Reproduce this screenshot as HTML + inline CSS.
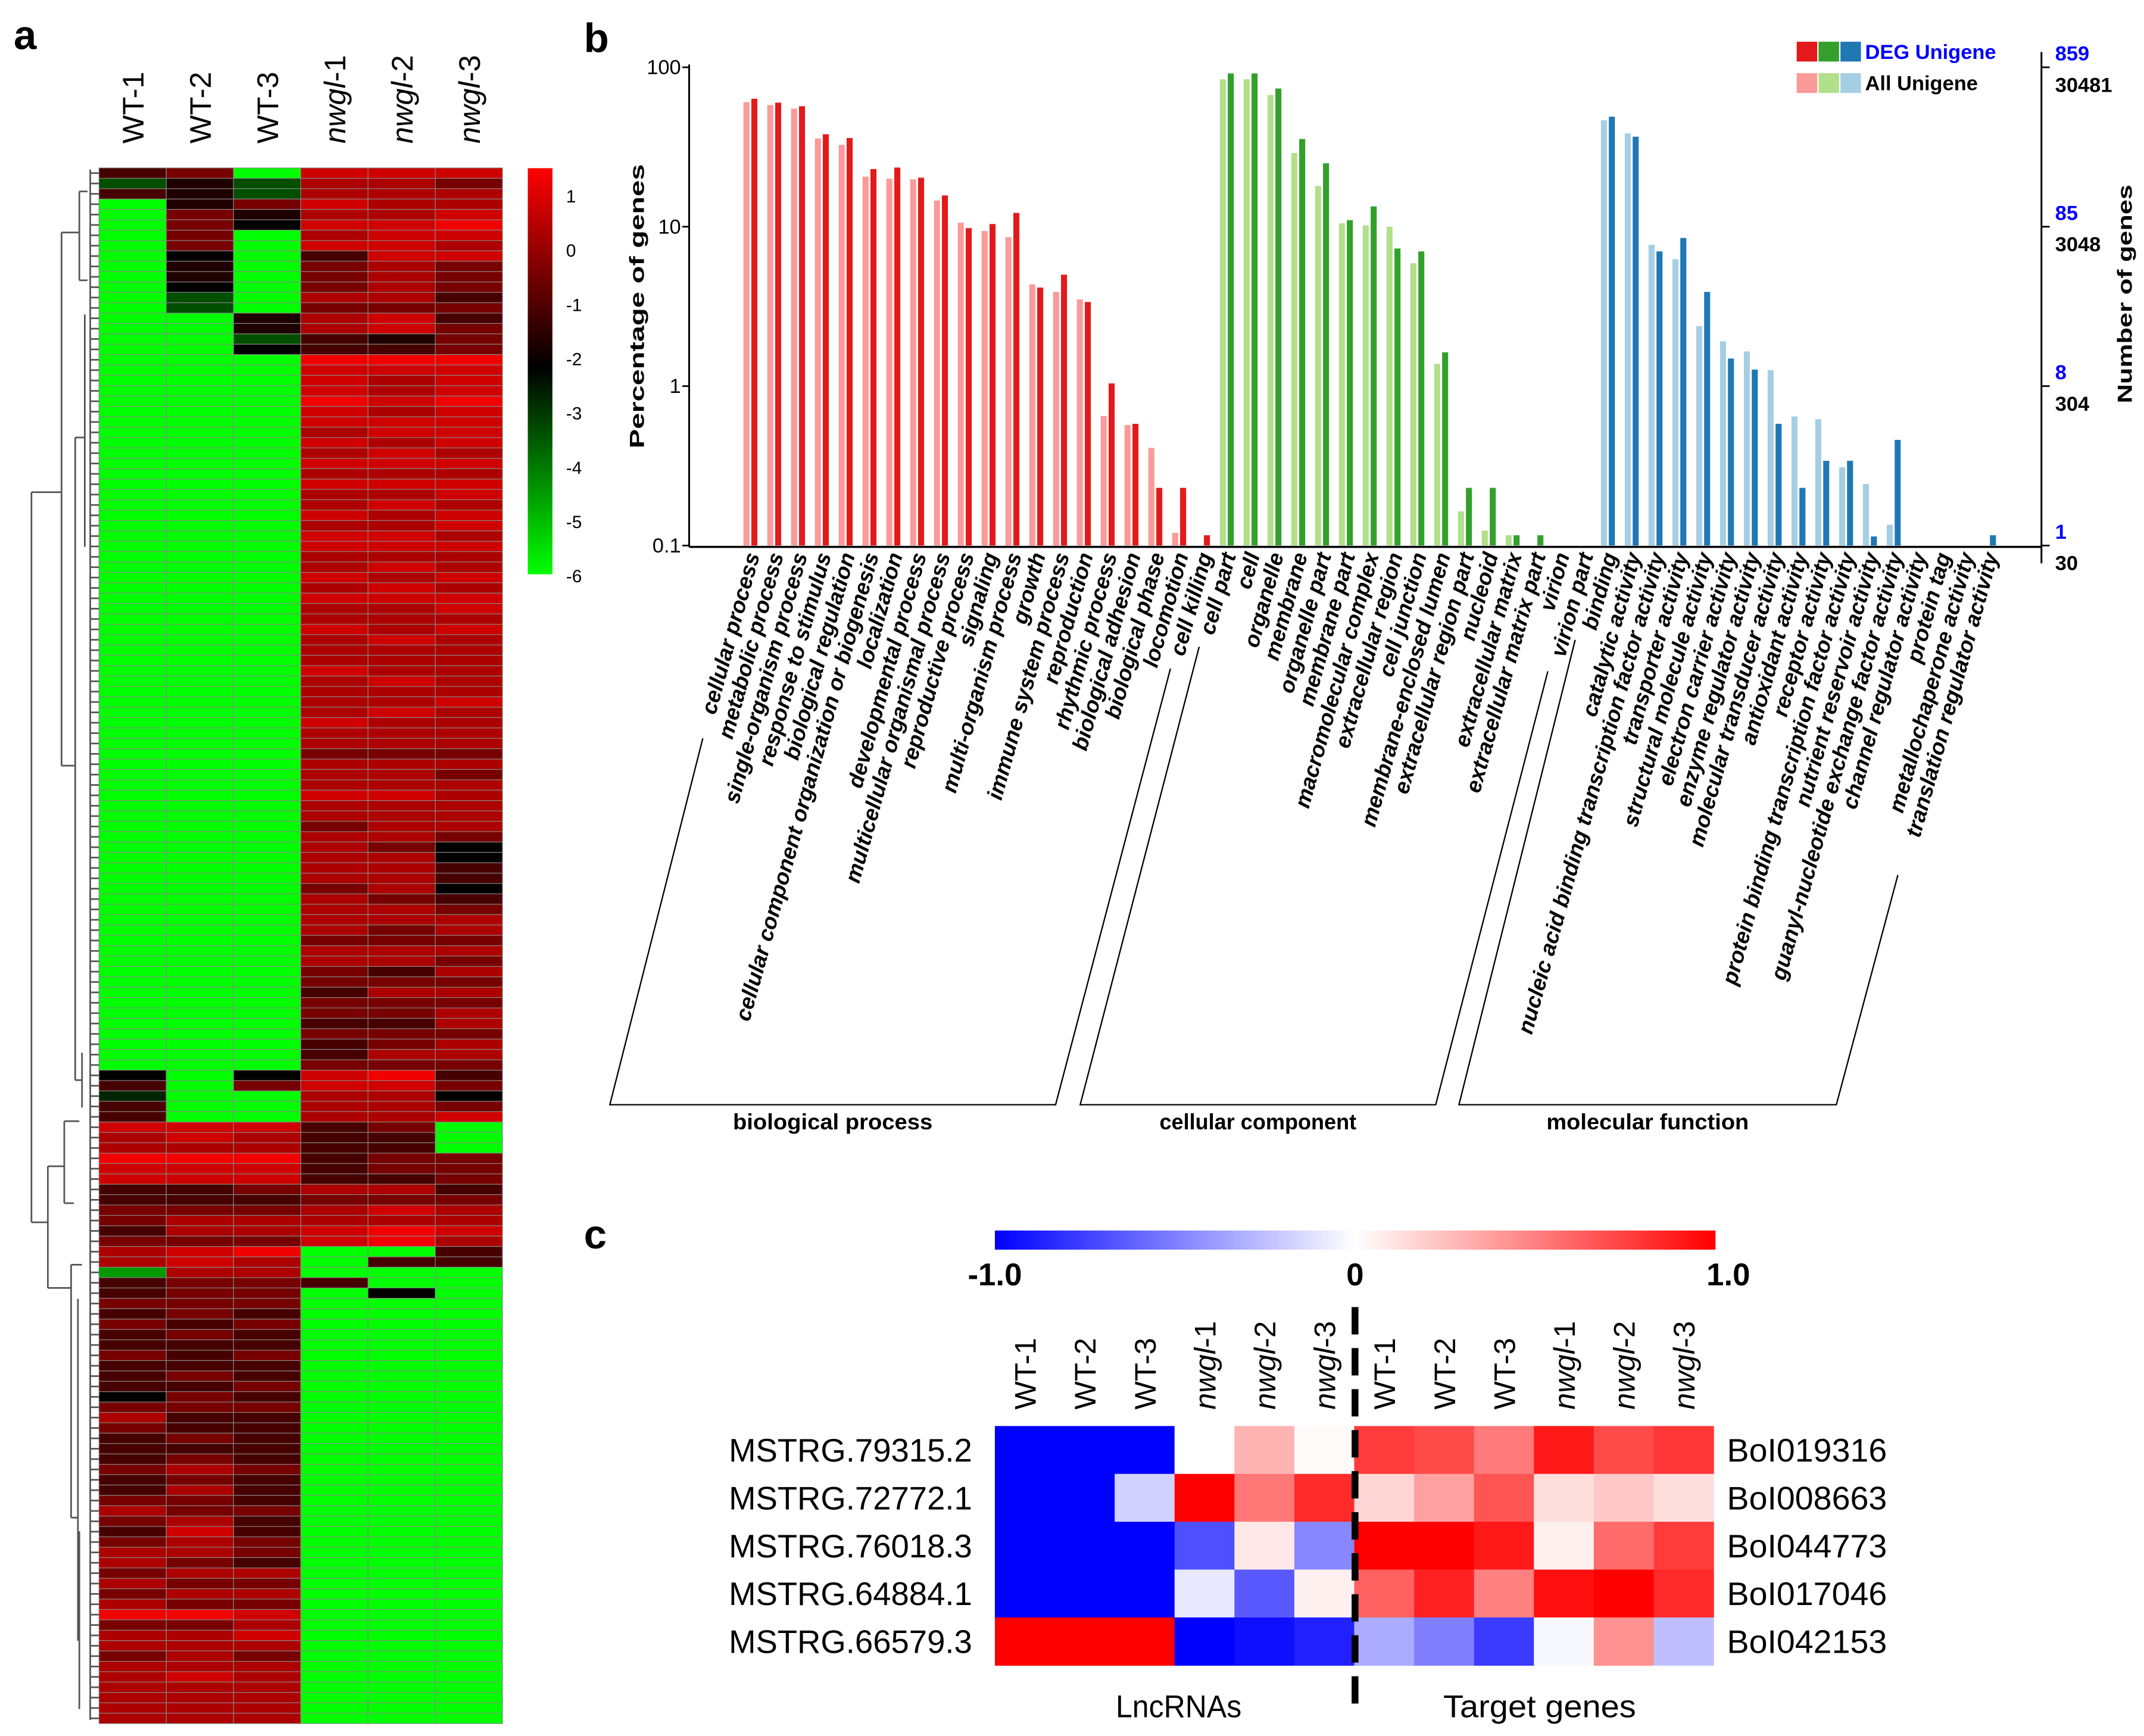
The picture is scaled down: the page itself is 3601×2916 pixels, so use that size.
<!DOCTYPE html>
<html><head><meta charset="utf-8"><style>
html,body{margin:0;padding:0;background:#fff}
svg{display:block;font-family:"Liberation Sans",Arial,sans-serif}
</style></head><body>
<svg id="fig" xmlns="http://www.w3.org/2000/svg" width="3601" height="2916" viewBox="0 0 1568 1269.7">
<rect width="1568" height="1269.7" fill="#fff"/>
<text x="10" y="36" font-size="30" font-weight="bold">a</text>
<text x="427" y="38" font-size="30" font-weight="bold">b</text>
<text x="427" y="913" font-size="30" font-weight="bold">c</text>
<g id="pa"></g>
<g id="pb"></g>
<g id="pc"></g>
</svg>
<script>
// ---------- Panel a data ----------
const aSamples = ["WT-1","WT-2","WT-3","nwgl-1","nwgl-2","nwgl-3"];
const aCodeValues = {G:-6,g:-4.5,h:-3.4,q:-2.8,k:-2.2,K:-1.8,m:-1.2,d:-0.5,r:0.3,R:0.8,B:1.3};
const aColWT1 = "mhm"+"G".repeat(84)+"kmqmm"+"RrrBRRmmddmd"+"rr"+"g"+"mm"+"dmdmmdmmmk"+"drdmmmdmmd"+"rdmdrrdrdr"+"Bdrrdrrrrr"+"r";
const aColWT2 = "dKK"+"KddddkKKkhh"+"G".repeat(73)+"GGGGG"+"RRrBRRmmdrrd"+"RR"+"r"+"dd"+"ddmdmmmdmd"+"dmmdmdrdrd"+"drRrrdrdrd"+"BdrrrrRrrr"+"r";
const aColWT3 = "Ghh"+"dKk"+"G".repeat(8)+"KKhk"+"G".repeat(69)+"kdGGG"+"RrrBRRdmdrrd"+"Br"+"r"+"dd"+"dmdmmdmmdm"+"dmmmmmdmmm"+"dmmddmrdrd"+"RrRrdrrrrr"+"r";
const aColN1 = "RrrRrRrRmdddrdrrmm"+"BRRRBRRrRr"+"RrRrrRrRRr"+"rRrRrrRrrr"+"RrrrrRrrdr"+"rrRrrdrrrr"+"rdrrrrdrrd"+"dmddmdmmd"+"RRrrr"+"mmmmmmrdrrRR"+"GG"+"G"+"m"+"G"+"G".repeat(41);
const aColN2 = "RrrrrRRRRrrrrdRRKm"+"BRrrRrRRrR"+"RrRrRrrRRr"+"RrRRrrrRrr"+"rRrrRrrrdr"+"rrRrrrrdrr"+"rrdrrddrrm"+"drddmddrd"+"BRrrr"+"dmmddmrdRrBB"+"Gm"+"G"+"G"+"k"+"G".repeat(41);
const aColN3 = "RdrrRBRrRdddmdmddd"+"BRRRBRRRRr"+"RrRRrRRrRr"+"rRrRRrRrrr"+"rrrRrrrrdr"+"drrrrrdkkm"+"mkmdrrdrdr"+"drdrrdrrd"+"mdkdR"+"GGGdddmdrrRr"+"mm"+"GGG"+"G".repeat(41);
const aColumns = [aColWT1,aColWT2,aColWT3,aColN1,aColN2,aColN3];
const aScaleTicks = ["1","0","-1","-2","-3","-4","-5","-6"];

// ---------- Panel b data ----------
const goTerms = ["cellular process","metabolic process","single-organism process","response to stimulus","biological regulation","cellular component organization or biogenesis","localization","developmental process","multicellular organismal process","reproductive process","signaling","multi-organism process","growth","immune system process","reproduction","rhythmic process","biological adhesion","biological phase","locomotion","cell killing",
"cell part","cell","organelle","membrane","organelle part","membrane part","macromolecular complex","extracellular region","cell junction","membrane-enclosed lumen","extracellular region part","nucleoid","extracellular matrix","extracellular matrix part","virion","virion part",
"binding","catalytic activity","nucleic acid binding transcription factor activity","transporter activity","structural molecule activity","electron carrier activity","enzyme regulator activity","molecular transducer activity","antioxidant activity","receptor activity","protein binding transcription factor activity","nutrient reservoir activity","guanyl-nucleotide exchange factor activity","channel regulator activity","protein tag","metallochaperone activity","translation regulator activity"];
const goGroup = [0,0,0,0,0,0,0,0,0,0,0,0,0,0,0,0,0,0,0,0, 1,1,1,1,1,1,1,1,1,1,1,1,1,1,1,1, 2,2,2,2,2,2,2,2,2,2,2,2,2,2,2,2,2];
const allUnigene = [60.4,58,55,35.8,32.6,20.6,20,19.8,14.6,10.6,9.4,8.6,4.35,3.9,3.5,0.65,0.57,0.41,0.12,0,
84,84,67,29,18,10.5,10.2,10,5.9,1.38,0.164,0.124,0.116,0,0,0,
46.5,38.5,7.7,6.25,2.38,1.91,1.65,1.26,0.645,0.62,0.31,0.243,0.135,0,0,0,0];
const degUnigene = [63.5,60,57,38,36,23,23.5,20.3,15.7,9.8,10.4,12.2,4.15,5.0,3.37,1.04,0.58,0.23,0.23,0.116,
91.5,91.5,73.6,35.5,25,11,13.4,7.3,7.0,1.63,0.23,0.23,0.116,0.116,0,0,
49,36.7,7.0,8.5,3.9,1.49,1.27,0.58,0.23,0.34,0.34,0.114,0.46,0,0,0,0.116];
const yTicks = [100,10,1,0.1];
const yTickLabels = ["100","10","1","0.1"];
const rightDegLabels = ["859","85","8","1"];
const rightAllLabels = ["30481","3048","304","30"];
const groupNames = ["biological process","cellular component","molecular function"];

// ---------- Panel c data ----------
const cCols = ["WT-1","WT-2","WT-3","nwgl-1","nwgl-2","nwgl-3","WT-1","WT-2","WT-3","nwgl-1","nwgl-2","nwgl-3"];
const lncNames = ["MSTRG.79315.2","MSTRG.72772.1","MSTRG.76018.3","MSTRG.64884.1","MSTRG.66579.3"];
const targetNames = ["BoI019316","BoI008663","BoI044773","BoI017046","BoI042153"];
const corrRow1 = [-1,-1,-1,0.0,0.3,0.02, 0.77,0.71,0.52,0.9,0.71,0.79];
const corrRow2 = [-1,-1,-0.18,1,0.53,0.83, 0.16,0.37,0.67,0.13,0.21,0.13];
const corrRow3 = [-1,-1,-1,-0.69,0.09,-0.47, 1,1,0.9,0.06,0.58,0.77];
const corrRow4 = [-1,-1,-1,-0.09,-0.65,0.06, 0.62,0.87,0.5,0.94,1,0.83];
const corrRow5 = [1,1,1,-1,-0.94,-0.87, -0.33,-0.5,-0.77,-0.03,0.43,-0.25];
const corrRows = [corrRow1,corrRow2,corrRow3,corrRow4,corrRow5];
const cScaleLabels = ["-1.0","0","1.0"];

const NS="http://www.w3.org/2000/svg";
function mk(parent,tag,attrs,text){const e=document.createElementNS(NS,tag);for(const k in attrs)e.setAttribute(k,attrs[k]);if(text!==undefined)e.textContent=text;parent.appendChild(e);return e;}

// ===== Panel a =====
(function(){
 const g=document.getElementById('pa');
 const x0=72.4,x1=367.5,y0=122.8,y1=1260.6,nR=150;
 const cw=(x1-x0)/6,rh=(y1-y0)/nR;
 function col(v){const mid=-2.25;
  if(v>=mid){const t=Math.min(1,(v-mid)/3.75);return `rgb(${Math.round(255*t)},0,0)`;}
  const t=Math.min(1,(mid-v)/3.75);return `rgb(0,${Math.round(255*t)},0)`;}
 aColumns.forEach((s,ci)=>{
  for(let r=0;r<nR;r++){
   const ch=s[r]||s[s.length-1];const v=aCodeValues[ch];
   const c=mk(g,'rect',{x:x0+ci*cw,y:y0+r*rh,width:cw,height:rh+0.05,fill:col(v),stroke:'#8a8a8a','stroke-width':0.5});
   
   
  }
  const lx=x0+(ci+0.5)*cw+8;
  const t=mk(g,'text',{x:0,y:0,transform:`translate(${lx},105) rotate(-90)`,'font-size':22});
  
  
  const nm=aSamples[ci];
  if(nm.startsWith('nwgl')){mk(t,'tspan',{'font-style':'italic'},'nwgl');mk(t,'tspan',{},nm.slice(4));}
  else t.textContent=nm;
 });
 const defs=mk(g,'defs',{});
 const lg=mk(defs,'linearGradient',{id:'ga',x1:0,y1:0,x2:0,y2:1});
 mk(lg,'stop',{offset:'0','stop-color':'#ff0000'});
 mk(lg,'stop',{offset:'0.49','stop-color':'#000000'});
 mk(lg,'stop',{offset:'1','stop-color':'#00ff00'});
 const cb=mk(g,'rect',{x:386,y:123,width:18,height:297,fill:'url(#ga)'});
 
 
 aScaleTicks.forEach((l,i)=>{
  const t=mk(g,'text',{x:414,y:148+i*39.7,'font-size':13},l);
  
  
 });
 const dg=mk(g,'g',{stroke:'#555','stroke-width':1.2,fill:'none'});
 
 
 for(let r=0;r<nR;r++){const y=y0+(r+0.5)*rh;mk(dg,'line',{x1:66,y1:y,x2:x0,y2:y});}
 const segs=[[66,124,66,1258],
 [23,360,23,894],[23,360,45,360],[23,894,35,894],
 [45,170,45,560],[45,170,58,170],[45,560,55,560],
 [58,140,58,205],[58,140,64,140],[58,205,64,205],
 [55,320,55,790],[55,320,62,320],[55,790,60,790],
 [62,230,62,400],[60,770,60,810],
 [35,853,35,942],[35,853,47,853],[35,942,52,942],
 [47,820,47,880],[47,820,58,820],[47,880,54,880],
 [52,925,52,1110],[52,925,60,925],[52,1110,57,1110],
 [57,950,57,1200],[58,1120,58,1250]];
 segs.forEach(s=>mk(dg,'line',{x1:s[0],y1:s[1],x2:s[2],y2:s[3]}));
})();

// ===== Panel b =====
(function(){
 const g=document.getElementById('pb');
 const axL=504,axR=1493,yTop=49.2,yBot=399;
 const dec=(yBot-yTop)/3;
 const y=v=>yBot-(Math.log10(v)+1)*dec;
 const x0=543.7,step=17.42,bw=4.4;
 const light=['#fb9a99','#b2df8a','#a6cee3'],dark=['#e31a1c','#33a02c','#1f78b4'];
 goTerms.forEach((term,i)=>{
  const xl=x0+i*step,gr=goGroup[i];
  const a=allUnigene[i],d=degUnigene[i];
  if(a>0.1){const r=mk(g,'rect',{x:xl,y:y(a),width:bw,height:yBot-y(a),fill:light[gr]});
   
   }
  if(d>0.1){const r=mk(g,'rect',{x:xl+5.8,y:y(d),width:bw,height:yBot-y(d),fill:dark[gr]});
   
   }
  const t=mk(g,'text',{x:0,y:0,transform:`translate(${xl+12},406) rotate(-74.5)`,'text-anchor':'end','font-size':16,'font-weight':'bold','font-style':'italic'},term);
  
  
 });
 mk(g,'line',{x1:axL,y1:yTop-2,x2:axL,y2:yBot+1,stroke:'#000','stroke-width':1.3});
 mk(g,'line',{x1:axL,y1:yBot+1,x2:axR,y2:yBot+1,stroke:'#000','stroke-width':1.5});
 mk(g,'line',{x1:axR,y1:38,x2:axR,y2:412,stroke:'#000','stroke-width':1.3});
 yTicks.forEach((v,i)=>{
  const yy=y(v);
  mk(g,'line',{x1:axL-5,y1:yy,x2:axL,y2:yy,stroke:'#000','stroke-width':1.2});
  mk(g,'line',{x1:axR,y1:yy,x2:axR+6,y2:yy,stroke:'#000','stroke-width':1.2});
  const t=mk(g,'text',{x:axL-6,y:yy+5,'text-anchor':'end','font-size':15},yTickLabels[i]);
  
  
  const tb=mk(g,'text',{x:axR+10,y:yy-5,'font-size':15,'font-weight':'bold',fill:'#0000ff'},rightDegLabels[i]);
  
  
  const tk=mk(g,'text',{x:axR+10,y:yy+18,'font-size':15,'font-weight':'bold'},rightAllLabels[i]);
  
  
 });
 const yt=mk(g,'text',{x:0,y:0,transform:'translate(471,224) rotate(-90)','text-anchor':'middle','font-size':15,'font-weight':'bold',textLength:208,lengthAdjust:'spacingAndGlyphs'},'Percentage of genes');
 
 
 const yt2=mk(g,'text',{x:0,y:0,transform:'translate(1559,215) rotate(-90)','text-anchor':'middle','font-size':15,'font-weight':'bold',textLength:160,lengthAdjust:'spacingAndGlyphs'},'Number of genes');
 
 
 for(let k=0;k<3;k++){
  const a=mk(g,'rect',{x:1314+k*16,y:30.5,width:15,height:14.5,fill:dark[k]});
  
  
  const b=mk(g,'rect',{x:1314+k*16,y:53.5,width:15,height:14.5,fill:light[k]});
  
  
 }
 const l1=mk(g,'text',{x:1364,y:43,'font-size':15,'font-weight':'bold',fill:'#0000ff'},'DEG Unigene');
 
 
 const l2=mk(g,'text',{x:1364,y:66,'font-size':15,'font-weight':'bold'},'All Unigene');
 
 
 const br=[[[514,540],[446,808],[772,808],[856,489]],[[877,473],[790,808],[1050,808],[1132,491]],[[1152,468],[1067,808],[1343,808],[1388,640]]];
 const glen=[146,144,148];
 br.forEach((p,k)=>{
  const pl=mk(g,'polyline',{points:p.map(q=>q.join(',')).join(' '),fill:'none',stroke:'#000','stroke-width':1});
  
  
  const t=mk(g,'text',{x:(p[1][0]+p[2][0])/2,y:826,'text-anchor':'middle','font-size':16,'font-weight':'bold',textLength:glen[k],lengthAdjust:'spacingAndGlyphs'},groupNames[k]);
  
  
 });
})();

// ===== Panel c =====
(function(){
 const g=document.getElementById('pc');
 const x0=727.6,cw=43.8,y0=1043,rh=35;
 function col(v){if(v>=0){const c=Math.round(255*(1-v));return `rgb(255,${c},${c})`;}
  const c=Math.round(255*(1+v));return `rgb(${c},${c},255)`;}
 const defs=mk(g,'defs',{});
 const lg=mk(defs,'linearGradient',{id:'gc',x1:0,y1:0,x2:1,y2:0});
 mk(lg,'stop',{offset:'0','stop-color':'#0000ff'});
 mk(lg,'stop',{offset:'0.5','stop-color':'#ffffff'});
 mk(lg,'stop',{offset:'1','stop-color':'#ff0000'});
 const cb=mk(g,'rect',{x:727.6,y:900,width:527,height:14,fill:'url(#gc)'});
 
 
 [727.6,991,1264].forEach((xx,i)=>{
  const t=mk(g,'text',{x:xx,y:940,'text-anchor':'middle','font-size':23,'font-weight':'bold'},cScaleLabels[i]);
  
  
 });
 corrRows.forEach((row,ri)=>{
  row.forEach((v,ci)=>{
   const c=mk(g,'rect',{x:x0+ci*cw,y:y0+ri*rh,width:cw+0.3,height:rh+0.3,fill:col(v)});
   
   
  });
  const t=mk(g,'text',{x:533,y:y0+ri*rh+26,'font-size':24,textLength:178,lengthAdjust:'spacingAndGlyphs'},lncNames[ri]);
  
  
  const t2=mk(g,'text',{x:1263,y:y0+ri*rh+26,'font-size':24,textLength:117,lengthAdjust:'spacingAndGlyphs'},targetNames[ri]);
  
  
 });
 cCols.forEach((nm,ci)=>{
  const t=mk(g,'text',{x:0,y:0,transform:`translate(${x0+(ci+0.5)*cw+8},1031) rotate(-90)`,'font-size':22});
  
  
  if(nm.startsWith('nwgl')){mk(t,'tspan',{'font-style':'italic'},'nwgl');mk(t,'tspan',{},nm.slice(4));}
  else t.textContent=nm;
 });
 const dl=mk(g,'line',{x1:991,y1:956,x2:991,y2:1252,stroke:'#000','stroke-width':5,'stroke-dasharray':'20 10'});
 
 
 const a=mk(g,'text',{x:862,y:1256,'text-anchor':'middle','font-size':23,textLength:92,lengthAdjust:'spacingAndGlyphs'},'LncRNAs');
 
 
 const b=mk(g,'text',{x:1126,y:1256,'text-anchor':'middle','font-size':23,textLength:141,lengthAdjust:'spacingAndGlyphs'},'Target genes');
 
 
})();
</script>
</body></html>
